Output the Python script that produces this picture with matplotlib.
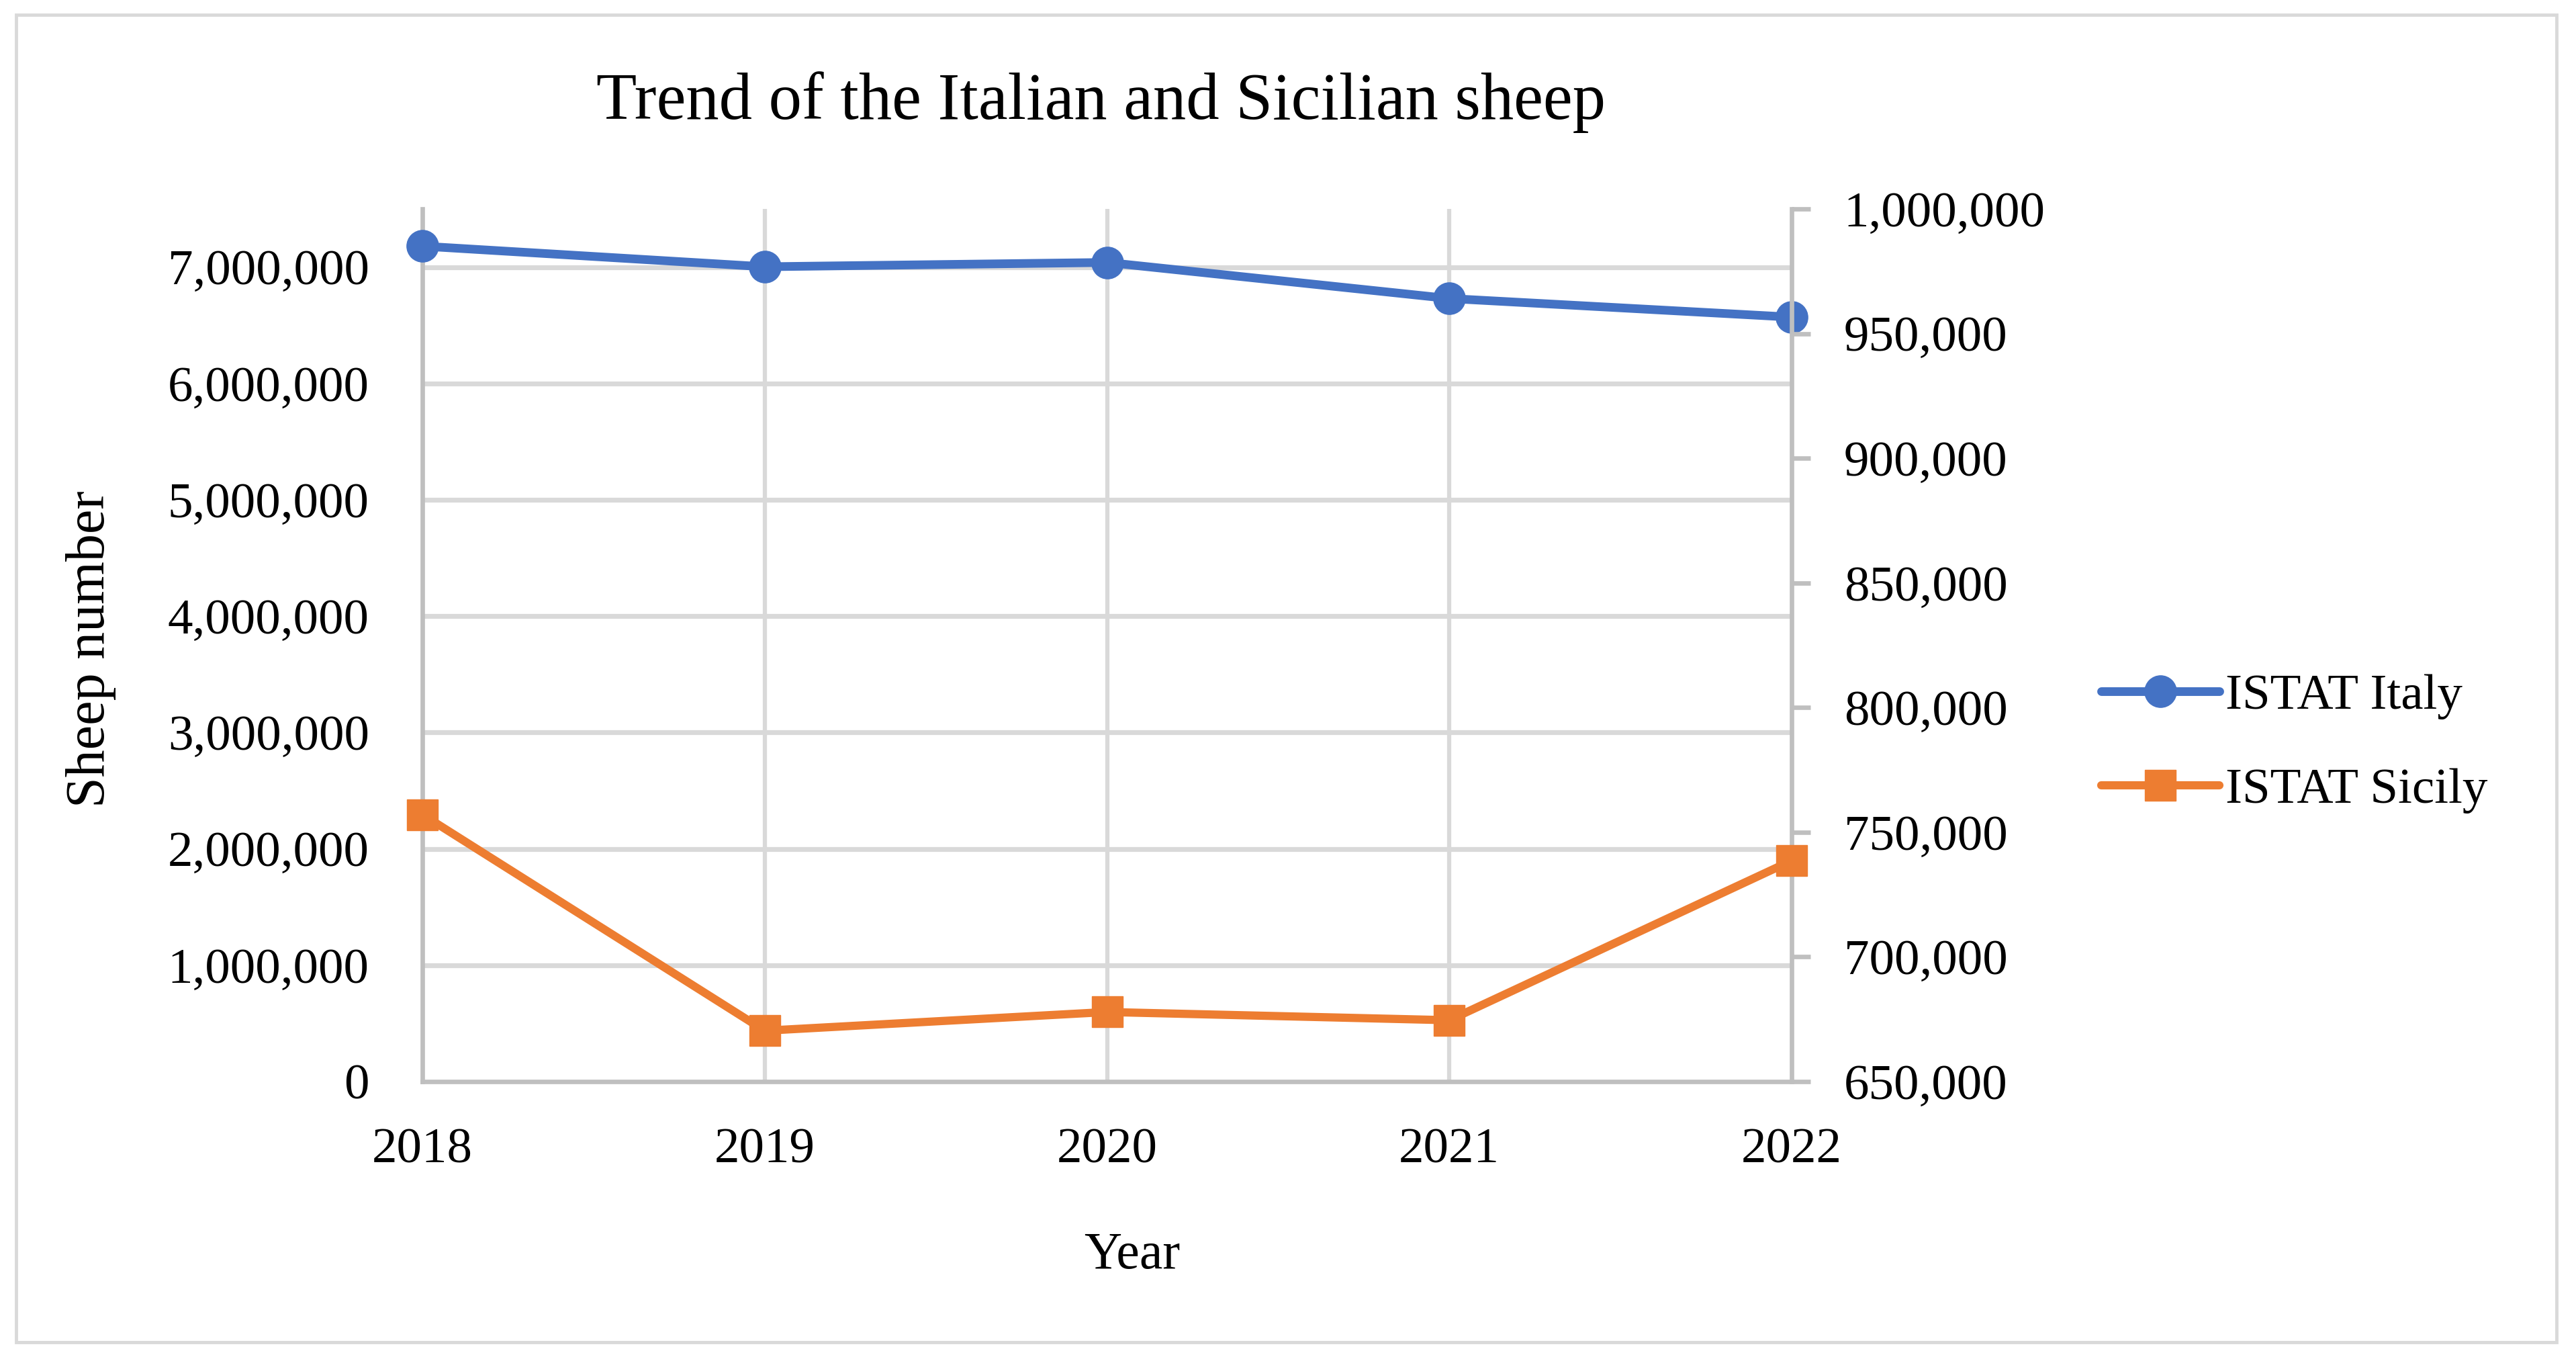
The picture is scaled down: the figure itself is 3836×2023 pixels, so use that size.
import matplotlib
matplotlib.use("Agg")
import matplotlib.pyplot as plt
from matplotlib.ticker import FuncFormatter
from matplotlib.patches import Rectangle

years = [2018, 2019, 2020, 2021, 2022]
italy = [7180000, 7003000, 7040000, 6730000, 6570000]
sicily = [757100, 670400, 677900, 674600, 738600]
left_ticks = [0, 1000000, 2000000, 3000000, 4000000, 5000000, 6000000, 7000000]
right_ticks = [650000, 700000, 750000, 800000, 850000, 900000, 950000, 1000000]

plt.rcParams['font.family'] = ['Liberation Serif', 'DejaVu Serif']

W, H = 3836, 2023
fig = plt.figure(figsize=(W / 100, H / 100), dpi=100)
fig.patch.set_facecolor('white')

# outer border
fig.patches.append(Rectangle((24 / W, 1 - 1998 / H), (3807 - 24) / W, (1998 - 22) / H,
                             transform=fig.transFigure, fill=False,
                             edgecolor='#d9d9d9', linewidth=3.5))

ax = fig.add_axes([629 / W, 1 - 1610 / H, (2668 - 629) / W, (1610 - 311) / H])
ax2 = ax.twinx()

blue = '#4472C4'
orange = '#ED7D31'
spine_c = '#bfbfbf'
grid_c = '#d9d9d9'
fs = 54

ax.set_xlim(2018, 2022)
ax.set_ylim(0, 7500000)
ax2.set_ylim(650000, 1000000)

ax.set_yticks(left_ticks)
ax2.set_yticks(right_ticks)
ax.set_xticks(years)
fmt = FuncFormatter(lambda v, p: f"{v:,.0f}")
ax.yaxis.set_major_formatter(fmt)
ax2.yaxis.set_major_formatter(fmt)

# grids
for t in left_ticks[1:]:
    ax.axhline(t, color=grid_c, linewidth=5.2, zorder=0)
for yv in years[1:-1]:
    ax.axvline(yv, color=grid_c, linewidth=4.5, zorder=0)

for a in (ax, ax2):
    a.spines['top'].set_visible(False)
    for s in ('left', 'right', 'bottom'):
        a.spines[s].set_color(spine_c)
        a.spines[s].set_linewidth(4.8)
ax.spines['right'].set_visible(False)
ax2.spines['left'].set_visible(False)
ax2.spines['bottom'].set_visible(False)

ax.tick_params(axis='y', length=0, pad=57, labelsize=fs)
ax.tick_params(axis='x', length=0, pad=50, labelsize=fs)
ax2.tick_params(axis='y', length=20, width=4.8, color=spine_c, direction='out',
                pad=36, labelsize=fs)

l1, = ax.plot(years, italy, color=blue, linewidth=9.3, marker='o', markersize=34,
              label='ISTAT Italy', zorder=3, clip_on=False, solid_capstyle='round')
l2, = ax2.plot(years, sicily, color=orange, linewidth=8.8, marker='s', markersize=33,
               label='ISTAT Sicily', zorder=3, clip_on=False, solid_capstyle='round')

fig.text(1640 / W, 1 - 152 / H, 'Trend of the Italian and Sicilian sheep',
         ha='center', va='center', fontsize=71)
fig.text(1686 / W, 1 - 1869 / H, 'Year', ha='center', va='center', fontsize=56)
fig.text(135 / W, 1 - 966 / H, 'Sheep number', ha='center', va='center',
         rotation=90, fontsize=59)

fig.legend(handles=[l1, l2], loc='center left',
           bbox_to_anchor=(3129 / W, 1 - 1107 / H), frameon=False,
           fontsize=fs, handlelength=2.35, handletextpad=0.12, labelspacing=0.95,
           borderpad=0, borderaxespad=0)

fig.savefig('out.png', dpi=100, facecolor='white')
